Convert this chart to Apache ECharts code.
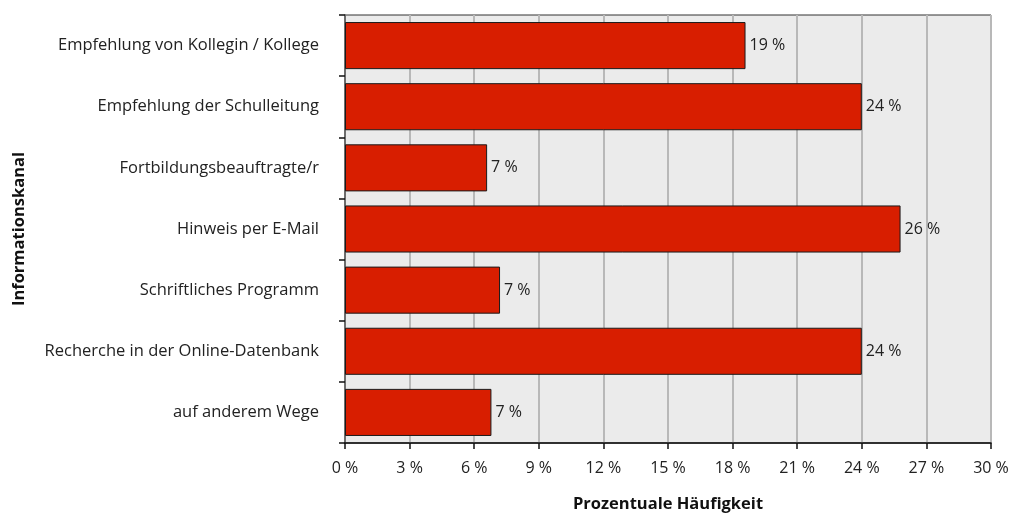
<!DOCTYPE html>
<html>
<head>
<meta charset="utf-8">
<script src="https://cdn.jsdelivr.net/npm/echarts@6/dist/echarts.min.js"></script>
<style>
  html, body { margin: 0; padding: 0; background: #fff; }
  #chart { width: 1012px; height: 514px; }
</style>
</head>
<body>
<div id="chart"></div>
<script>
// Informationskanäle, Anteil in Prozent
var kanaele = [
  'Empfehlung von Kollegin / Kollege',
  'Empfehlung der Schulleitung',
  'Fortbildungsbeauftragte/r',
  'Hinweis per E-Mail',
  'Schriftliches Programm',
  'Recherche in der Online-Datenbank',
  'auf anderem Wege'
];
var anteile = [18.6, 24.0, 6.6, 25.8, 7.2, 24.0, 6.8];

var schrift = '"Open Sans", sans-serif';
var myChart = echarts.init(document.getElementById('chart'));

var option = {
  animation: false,
  grid: {
    left: 345, right: 21, top: 15, bottom: 71,
    outerBoundsMode: 'none',
    containLabel: false,
    show: true,
    backgroundColor: '#ebebeb',
    borderColor: '#333',
    borderWidth: 1
  },
  xAxis: {
    type: 'value',
    min: 0, max: 30, interval: 3,
    name: 'Prozentuale Häufigkeit',
    nameLocation: 'middle',
    nameGap: 53,
    nameTextStyle: { fontFamily: schrift, fontSize: 16.5, fontWeight: 'bold', color: '#111' },
    axisLine: { show: true, lineStyle: { color: '#111', width: 1.5 } },
    axisTick: { show: true, length: 6, lineStyle: { color: '#111', width: 1.5 } },
    axisLabel: { formatter: '{value} %', fontFamily: schrift, fontSize: 16, color: '#222', margin: 17 },
    splitLine: { show: true, lineStyle: { color: '#b8b8b8', width: 2 } }
  },
  yAxis: {
    type: 'category',
    data: kanaele,
    inverse: true,
    name: 'Informationskanal',
    nameLocation: 'middle',
    nameGap: 317,
    nameRotate: 90,
    nameTextStyle: { fontFamily: schrift, fontSize: 16.5, fontWeight: 'bold', color: '#111' },
    axisLine: { show: true, lineStyle: { color: '#555', width: 1.5 } },
    axisTick: { show: true, length: 6, alignWithLabel: false, lineStyle: { color: '#111', width: 1.5 } },
    axisLabel: { fontFamily: schrift, fontSize: 16.5, color: '#222', margin: 26 },
    splitLine: { show: false }
  },
  series: [{
    type: 'bar',
    data: anteile,
    barCategoryGap: '23%',
    itemStyle: { color: '#d81e00', borderColor: '#1a1a1a', borderWidth: 1 },
    label: {
      show: true,
      position: 'right',
      distance: 4,
      formatter: function (p) { return Math.round(p.value) + ' %'; },
      fontFamily: schrift,
      fontSize: 16,
      color: '#222'
    }
  }]
};
myChart.setOption(option);
</script>
</body>
</html>
